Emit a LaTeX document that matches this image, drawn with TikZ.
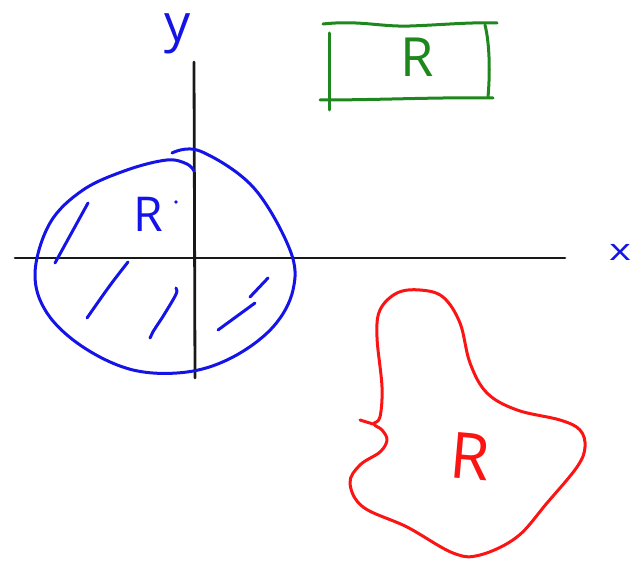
\documentclass[tikz,border=0pt]{standalone}
\usepackage{fontspec}
\setsansfont{Open Sans}
\definecolor{penblue}{RGB}{20,20,230}
\definecolor{pengreen}{RGB}{30,135,30}
\definecolor{penred}{RGB}{250,20,20}
\begin{document}
\begin{tikzpicture}[x=1pt, y=-1pt]
        \tikzset{
            axisline/.style={draw=black!90, line width=2.8pt, line cap=round},
            blueink/.style={draw=penblue, line width=3pt, line cap=round, line join=round},
            greenink/.style={draw=pengreen, line width=3pt, line cap=round},
            redink/.style={draw=penred, line width=3pt, line cap=round, line join=round},
            handtext/.style={font=\sffamily, inner sep=0pt}
        }
        \useasboundingbox (0,0) rectangle (638,572);

        % axes
        \draw[axisline] (15,258) -- (565,258);
        \draw[axisline] (194,62) -- (195,378);
        \node[handtext, text=penblue, font=\sffamily\fontsize{52}{52}\selectfont] (ylab) at (178,34) {y};
        \node[handtext, text=penblue, font=\sffamily\fontsize{30}{30}\selectfont, xscale=1.4] (xlab) at (620,252) {x};

        % blue region
        \draw[blueink] plot[smooth, tension=0.6] coordinates {
            (172,153) (200,151) (253,187) (290,250) (293,290) (273,327) (233,357)
            (187,372) (133,370) (83,347) (47,313) (35,273) (50,223)
            (83,190) (127,170) (167,160) (187,164) (194,171)};
        \draw[blueink] (88,203) -- (55,263);
        \draw[blueink] (128,262) .. controls (110,285) .. (87,318);
        \draw[blueink] (176,288) .. controls (178,292) .. (162,318) .. controls (152,333) .. (150,338);
        \draw[blueink] (268,278) -- (250,297);
        \draw[blueink] (255,303) -- (218,330);
        \node[handtext, text=penblue, font=\sffamily\fontsize{48}{48}\selectfont] (bluer) at (148,214) {R};
        \fill[penblue] (176,202) circle (1.8);

        % green box
        \draw[greenink] (323,24) .. controls (360,20) and (380,27) .. (410,26) .. controls (440,25) and (470,22) .. (497,23);
        \draw[greenink] (329,33) -- (329,110);
        \draw[greenink] (320,100) .. controls (380,100) and (440,97) .. (493,98);
        \draw[greenink] (485,25) .. controls (490,45) and (490,75) .. (488,97);
        \node[handtext, text=pengreen, font=\sffamily\fontsize{54}{54}\selectfont] (greenr) at (417,57) {R};

        % red region
        \draw[redink] (360,420) -- (373,424);
        \draw[redink] plot[smooth cycle, tension=0.6] coordinates {
            (380,417) (382,387) (377,337) (380,310) (397,293) (420,290)
            (443,297) (460,323) (470,363) (487,393) (517,410) (560,420)
            (580,430) (585,447) (577,467) (547,503) (517,537) (480,555)
            (453,553) (407,527) (363,507) (350,483) (360,465) (380,452)
            (387,440) (382,430) (374,424)};
        \node[handtext, text=penred, font=\sffamily\fontsize{64}{64}\selectfont, rotate=-5] (redr) at (470,456) {R};
\end{tikzpicture}
\end{document}
